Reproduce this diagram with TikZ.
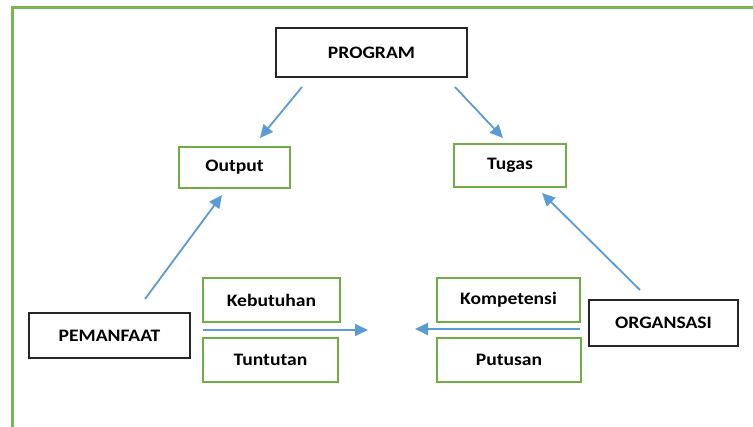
\documentclass[tikz,border=0pt]{standalone}
\usepackage{fontspec}
\setmainfont{Carlito}[FakeStretch=1.12]
\usetikzlibrary{arrows.meta}
\definecolor{frameg}{HTML}{77B655}
\definecolor{boxg}{HTML}{70AD47}
\definecolor{arrblue}{HTML}{5B9BD5}
\tikzset{
  mainbox/.style={draw=black!85, line width=2.3pt, rectangle, inner sep=0pt,
    font=\fontsize{17.5}{20}\selectfont\bfseries},
  subbox/.style={draw=boxg, line width=2pt, rectangle, inner sep=0pt,
    font=\fontsize{17.5}{20}\selectfont\bfseries},
  flow/.style={draw=arrblue, line width=1.8pt, -{Triangle[length=13pt,width=12pt]}},
}
\begin{document}
\begin{tikzpicture}[x=1pt,y=-1pt]
\useasboundingbox (0,0) rectangle (753,427);
\draw[frameg, line width=3pt] (12,450) -- (12,8) -- (770,8);

\node[mainbox, minimum width=191pt, minimum height=49pt] (program) at (371.5,52.5) {PROGRAM};
\node[subbox, minimum width=111pt, minimum height=41pt] (output) at (234.5,167.5) {Output};
\node[subbox, minimum width=112pt, minimum height=43pt] (tugas) at (510,165.5) {Tugas};
\node[subbox, minimum width=137pt, minimum height=44pt] (kebutuhan) at (271.5,300) {Kebutuhan};
\node[subbox, minimum width=135pt, minimum height=44pt] (tuntutan) at (270.5,360) {Tuntutan};
\node[subbox, minimum width=143pt, minimum height=44pt] (kompetensi) at (508.5,300) {Kompetensi};
\node[subbox, minimum width=144pt, minimum height=44pt] (putusan) at (509,360) {Putusan};
\node[mainbox, minimum width=161pt, minimum height=45pt] (pemanfaat) at (109.5,335.5) {PEMANFAAT};
\node[mainbox, minimum width=149pt, minimum height=46pt] (organsasi) at (663.5,323) {ORGANSASI};

\coordinate (p1) at (302,87);
\coordinate (o1) at (260,138);
\coordinate (p2) at (455,87);
\coordinate (t1) at (503,138);
\coordinate (pm) at (145,299);
\coordinate (o2) at (222,195);
\coordinate (og) at (640,290);
\coordinate (t2) at (542,193);
\coordinate (ls) at (203,330);
\coordinate (le) at (368,330);
\coordinate (rs) at (580,329);
\coordinate (re) at (415,329);

\draw[flow] (p1) -- (o1);
\draw[flow] (p2) -- (t1);
\draw[flow] (pm) -- (o2);
\draw[flow] (og) -- (t2);
\draw[flow] (ls) -- (le);
\draw[flow] (rs) -- (re);
\end{tikzpicture}
\end{document}
